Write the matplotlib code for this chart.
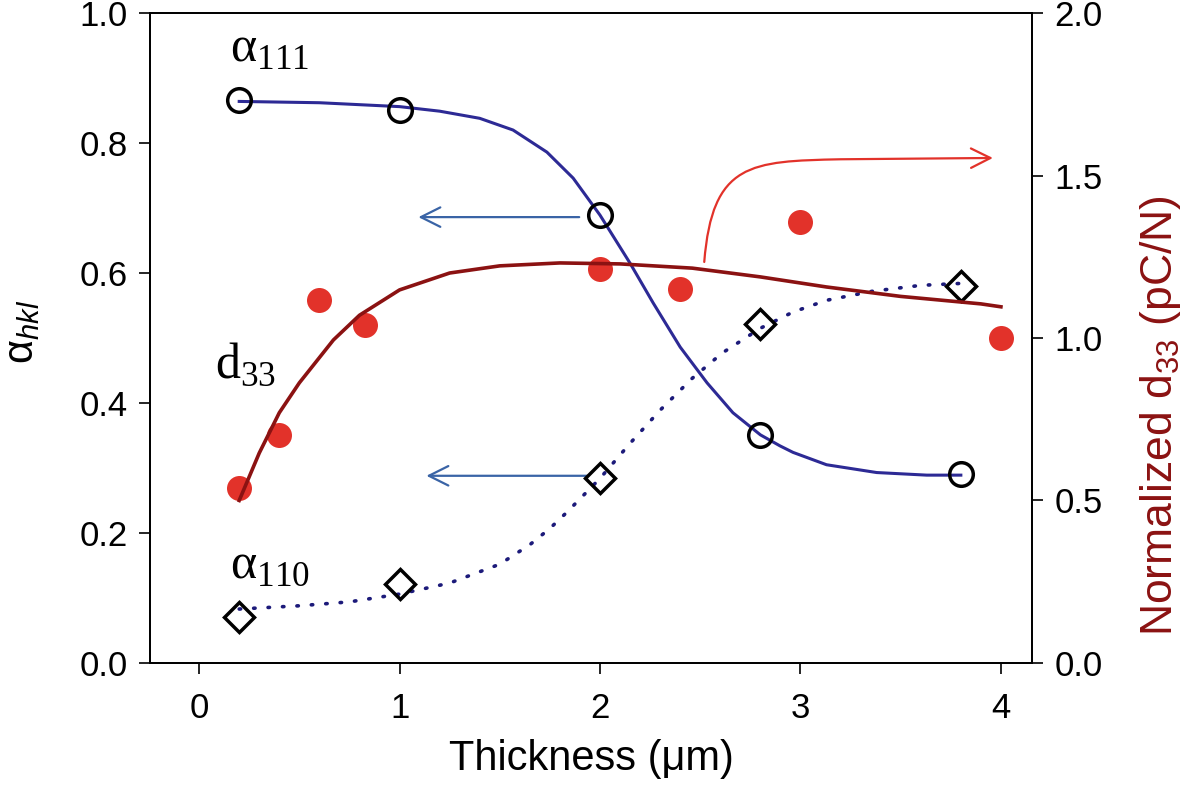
import matplotlib
matplotlib.use("Agg")
import matplotlib.pyplot as plt
from matplotlib.patches import FancyArrowPatch
from matplotlib.path import Path

plt.rcParams['font.family'] = ['Liberation Sans', 'DejaVu Sans']
plt.rcParams['mathtext.fontset'] = 'custom'
plt.rcParams['mathtext.rm'] = 'Liberation Serif'
plt.rcParams['mathtext.it'] = 'Liberation Sans:italic'
plt.rcParams['mathtext.sf'] = 'Liberation Sans'

# measured texture coefficients (left axis)
thick_alpha = [0.2, 1.0, 2.0, 2.8, 3.8]
alpha_111 = [0.866, 0.851, 0.689, 0.351, 0.291]
alpha_110 = [0.071, 0.122, 0.285, 0.522, 0.580]

# normalized d33 (right axis)
thick_d33 = [0.2, 0.4, 0.6, 0.83, 2.0, 2.4, 3.0, 4.0]
d33 = [0.538, 0.70, 1.117, 1.04, 1.212, 1.15, 1.357, 1.0]

# fitted curves
fit111_x = [0.2, 0.6, 1.0, 1.2, 1.4, 1.566, 1.735, 1.866, 2.0, 2.15, 2.265, 2.4, 2.534, 2.663, 2.8,
            2.898, 2.963, 3.13, 3.38, 3.63, 3.8]
fit111_y = [0.864, 0.862, 0.856, 0.849, 0.838, 0.820, 0.786, 0.746, 0.689, 0.615, 0.554, 0.486, 0.431,
            0.385, 0.351, 0.334, 0.324, 0.305, 0.293, 0.289, 0.289]
fit110_x = [0.2, 0.5, 0.75, 1.0, 1.25, 1.5, 1.65, 1.75, 1.835, 2.0, 2.15, 2.3, 2.46, 2.61, 2.8, 2.963,
            3.13, 3.36, 3.6, 3.8]
fit110_y = [0.083, 0.088, 0.094, 0.106, 0.123, 0.152, 0.182, 0.207, 0.232, 0.284, 0.338, 0.389, 0.438,
            0.477, 0.515, 0.540, 0.558, 0.572, 0.581, 0.584]
fitd33_x = [0.2, 0.3, 0.4, 0.5, 0.67, 0.8, 1.0, 1.25, 1.5, 1.8, 2.1, 2.46, 2.8, 3.13, 3.5, 3.9, 4.0]
fitd33_y = [0.50, 0.646, 0.77, 0.862, 0.994, 1.07, 1.148, 1.20, 1.222, 1.231, 1.228, 1.215, 1.188,
            1.157, 1.128, 1.105, 1.096]

blue = '#2d2a95'
navy = '#1c1a7a'
darkred = '#8b1212'
red = '#e2322a'
arrow_blue = '#3a64a6'

fig = plt.figure(figsize=(12, 7.9), dpi=100)
ax = fig.add_axes([0.125, 0.1608, 0.735, 0.8227])
ax2 = ax.twinx()

ax.plot(fit111_x, fit111_y, color=blue, lw=2.2, zorder=2)
ax.plot(fit110_x, fit110_y, color=navy, lw=2.6, linestyle=(0, (0.4, 3.6)),
        dash_capstyle='round', zorder=2)
ax.plot(thick_alpha, alpha_111, 'o', ms=17, mfc='none', mec='black', mew=2.5, zorder=4)
ax.plot(thick_alpha, alpha_110, 'D', ms=15, mfc='none', mec='black', mew=2.5, zorder=4)

ax2.plot(thick_d33, d33, 'o', ms=18, color=red, mec='none', zorder=2)
ax2.plot(fitd33_x, fitd33_y, color=darkred, lw=2.6, zorder=3)

ax.set_xlim(-0.245, 4.155)
ax.set_ylim(0, 1.0)
ax2.set_ylim(0, 2.0)
ax.set_xticks([0, 1, 2, 3, 4])
ax.set_yticks([0, 0.2, 0.4, 0.6, 0.8, 1.0])
ax.set_yticklabels(['0.0', '0.2', '0.4', '0.6', '0.8', '1.0'])
ax2.set_yticks([0, 0.5, 1.0, 1.5, 2.0])
ax2.set_yticklabels(['0.0', '0.5', '1.0', '1.5', '2.0'])

for a in (ax, ax2):
    a.tick_params(direction='out', length=8, width=1.2, labelsize=25, pad=8)
    for s in a.spines.values():
        s.set_linewidth(1.3)
ax.tick_params(axis='x', pad=13)

ax.set_xlabel('Thickness (\u03bcm)', fontsize=30, labelpad=10)
ax.set_ylabel(r'$\mathsf{\alpha}_{hkl}$', fontsize=30)
ax.yaxis.set_label_coords(-0.122, 0.51)
ax2.set_ylabel(r'Normalized d$_{\mathsf{33}}$ (pC/N)', fontsize=32, color=darkred)
ax2.yaxis.set_label_coords(1.12, 0.38)

ax.text(0.155, 0.925, r'$\mathrm{\alpha}_{\mathrm{111}}$', fontsize=36, zorder=5)
ax.text(0.08, 0.438, r'$\mathrm{d}_{\mathrm{33}}$', fontsize=36, zorder=5)
ax.text(0.155, 0.131, r'$\mathrm{\alpha}_{\mathrm{110}}$', fontsize=36, zorder=5)

# arrows pointing to the axes
for x0, x1, yv in [(1.91, 1.08, 0.686), (1.95, 1.12, 0.288)]:
    ax.add_patch(FancyArrowPatch((x0, yv), (x1, yv), arrowstyle='->,head_length=0.7,head_width=0.35',
                                 mutation_scale=20, color=arrow_blue, lw=1.6, zorder=3))

red_path = Path([(2.52, 0.617), (2.56, 0.77), (2.75, 0.772), (3.2, 0.775), (3.96, 0.777)],
                [Path.MOVETO, Path.CURVE4, Path.CURVE4, Path.CURVE4, Path.LINETO])
red_path = red_path.transformed(ax.transData)
ax2.add_patch(FancyArrowPatch(path=red_path, arrowstyle='->,head_length=0.7,head_width=0.35',
                              mutation_scale=20, color=red, lw=1.6, zorder=4,
                              transform=None))

fig.savefig('out.png', dpi=100)
